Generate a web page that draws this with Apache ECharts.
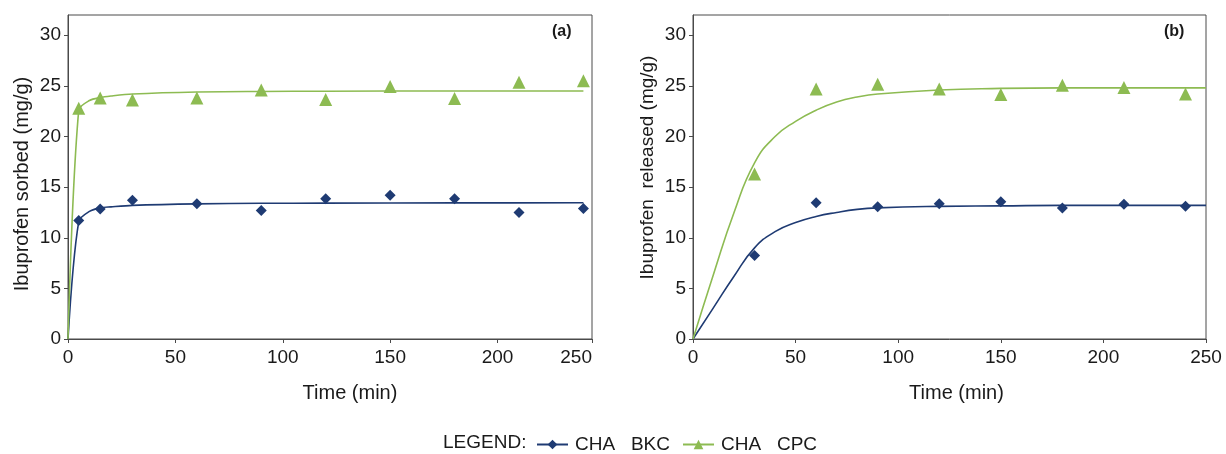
<!DOCTYPE html>
<html>
<head>
<meta charset="utf-8">
<script src="https://cdn.jsdelivr.net/npm/echarts@6/dist/echarts.min.js"></script>
<style>
html,body{margin:0;padding:0;background:#fff;}
#chart{width:1226px;height:454px;}
</style>
</head>
<body>
<div id="chart"></div>
<script>
// ---- Data ----
const seriesNames = ['CHA   BKC', 'CHA   CPC'];
const xTickLabels = ['0', '50', '100', '150', '200', '250'];

// Panel (a): sorption
const timeA = [5, 15, 30, 60, 90, 120, 150, 180, 210, 240];
const bkcSorbed = [11.7, 12.85, 13.7, 13.35, 12.7, 13.85, 14.2, 13.85, 12.5, 12.9];
const cpcSorbed = [22.8, 23.8, 23.6, 23.8, 24.6, 23.65, 24.95, 23.75, 25.35, 25.5];
const fitTimeA = [0, 5, 10, 15, 20, 30, 60, 90, 120, 180, 240];
const bkcSorbedFit = [0, 11.6, 12.6, 12.95, 13.05, 13.2, 13.35, 13.4, 13.42, 13.44, 13.45];
const cpcSorbedFit = [0, 22.6, 23.55, 23.85, 24.0, 24.2, 24.4, 24.45, 24.47, 24.5, 24.5];

// Panel (b): release
const timeB = [30, 60, 90, 120, 150, 180, 210, 240];
const bkcReleased = [8.25, 13.45, 13.05, 13.35, 13.55, 12.95, 13.3, 13.1];
const cpcReleased = [16.3, 24.7, 25.15, 24.7, 24.15, 25.05, 24.85, 24.2];
const fitTimeB = [0, 10, 20, 30, 40, 50, 60, 70, 80, 90, 120, 150, 180, 210, 250];
const bkcReleasedFit = [0, 3.1, 6.2, 9.0, 10.6, 11.5, 12.1, 12.5, 12.8, 12.95, 13.1, 13.15, 13.2, 13.2, 13.2];
const cpcReleasedFit = [0, 6.4, 12.5, 17.4, 20.0, 21.5, 22.6, 23.4, 23.9, 24.2, 24.6, 24.75, 24.8, 24.8, 24.8];

// ---- Styling ----
const BLUE = '#1F3B73';
const GREEN = '#8DBB52';
const AXIS = '#4a4a4a';
const TXT = '#1a1a1a';
const FONT = 'Liberation Sans, Arial, sans-serif';

const zip = (xs, ys) => xs.map((x, i) => [x, ys[i]]);

function xAxis(gridIndex, max, padLeft) {
  return {
    type: 'value', gridIndex, min: 0, max, interval: 50,
    name: 'Time (min)', nameLocation: 'middle', nameGap: 44,
    nameTextStyle: { fontSize: 20, color: TXT, fontFamily: FONT, padding: [0, 0, 0, padLeft] },
    axisLine: { show: true, lineStyle: { color: AXIS, width: 1 } },
    axisTick: { show: true, length: 4, inside: false, lineStyle: { color: AXIS } },
    splitLine: { show: false },
    axisLabel: {
      fontSize: 19, color: TXT, fontFamily: FONT, margin: 9,
      showMaxLabel: true, alignMaxLabel: max < 250 ? 'right' : 'center',
      formatter: function (v) {
        const i = Math.round(v / 50);
        if (v >= max) return xTickLabels[xTickLabels.length - 1];
        return xTickLabels[i];
      }
    }
  };
}

function yAxis(gridIndex, name, size, pad) {
  return {
    type: 'value', gridIndex, min: 0, max: 32, interval: 5,
    name, nameLocation: 'middle', nameGap: 36,
    nameTextStyle: { fontSize: size, color: TXT, fontFamily: FONT, padding: pad },
    axisLine: { show: true, lineStyle: { color: AXIS, width: 1 } },
    axisTick: { show: true, length: 4, inside: false, lineStyle: { color: AXIS } },
    splitLine: { show: false },
    axisLabel: { fontSize: 19, color: TXT, fontFamily: FONT, margin: 7, showMaxLabel: false }
  };
}

function fitLine(name, xi, yi, data, color, symbol, smooth) {
  return {
    name, type: 'line', xAxisIndex: xi, yAxisIndex: yi, data,
    smooth, showSymbol: false, symbol, symbolSize: 9,
    itemStyle: { color }, lineStyle: { color, width: 1.6 },
    silent: true, z: 2
  };
}
function points(name, xi, yi, data, color, symbol, size) {
  return {
    name, type: 'scatter', xAxisIndex: xi, yAxisIndex: yi, data,
    symbol, symbolSize: size, itemStyle: { color, opacity: 1 }, z: 3
  };
}

const chart = echarts.init(document.getElementById('chart'), null, { renderer: 'canvas' });
chart.setOption({
  animation: false,
  backgroundColor: '#ffffff',
  textStyle: { fontFamily: FONT },
  grid: [
    { left: 68, top: 15, width: 524, height: 324, show: true, borderColor: AXIS, borderWidth: 1, backgroundColor: 'transparent' },
    { left: 693, top: 15, width: 513, height: 324, show: true, borderColor: AXIS, borderWidth: 1, backgroundColor: 'transparent' }
  ],
  xAxis: [xAxis(0, 244, 40), xAxis(1, 250, 14)],
  yAxis: [
    yAxis(0, 'Ibuprofen sorbed (mg/g)', 20, [0, 14, 0, 0]),
    yAxis(1, 'Ibuprofen  released (mg/g)', 19, [0, 0, 0, 19])
  ],
  title: [
    { text: '(a)', left: 552, top: 24, padding: 0, textStyle: { fontSize: 16, fontWeight: 'bold', color: TXT, fontFamily: FONT } },
    { text: '(b)', left: 1164, top: 24, padding: 0, textStyle: { fontSize: 16, fontWeight: 'bold', color: TXT, fontFamily: FONT } },
    { text: 'LEGEND:', left: 443, top: 433, padding: 0, textStyle: { fontSize: 19, fontWeight: 'normal', color: TXT, fontFamily: FONT } }
  ],
  legend: {
    left: 531, top: 430, itemWidth: 31, itemHeight: 12, itemGap: 12,
    data: seriesNames,
    textStyle: { fontSize: 19, color: TXT, fontFamily: FONT, padding: [0, 0, 0, 2] },
    selectedMode: false
  },
  series: [
    fitLine(seriesNames[0], 0, 0, zip(fitTimeA, bkcSorbedFit), BLUE, 'diamond', 0.3),
    fitLine(seriesNames[1], 0, 0, zip(fitTimeA, cpcSorbedFit), GREEN, 'triangle', 0.3),
    points(seriesNames[0], 0, 0, zip(timeA, bkcSorbed), BLUE, 'diamond', 11),
    points(seriesNames[1], 0, 0, zip(timeA, cpcSorbed), GREEN, 'triangle', 13),
    fitLine(seriesNames[0], 1, 1, zip(fitTimeB, bkcReleasedFit), BLUE, 'diamond', 0.5),
    fitLine(seriesNames[1], 1, 1, zip(fitTimeB, cpcReleasedFit), GREEN, 'triangle', 0.5),
    points(seriesNames[0], 1, 1, zip(timeB, bkcReleased), BLUE, 'diamond', 11),
    points(seriesNames[1], 1, 1, zip(timeB, cpcReleased), GREEN, 'triangle', 13)
  ]
});
</script>
</body>
</html>
